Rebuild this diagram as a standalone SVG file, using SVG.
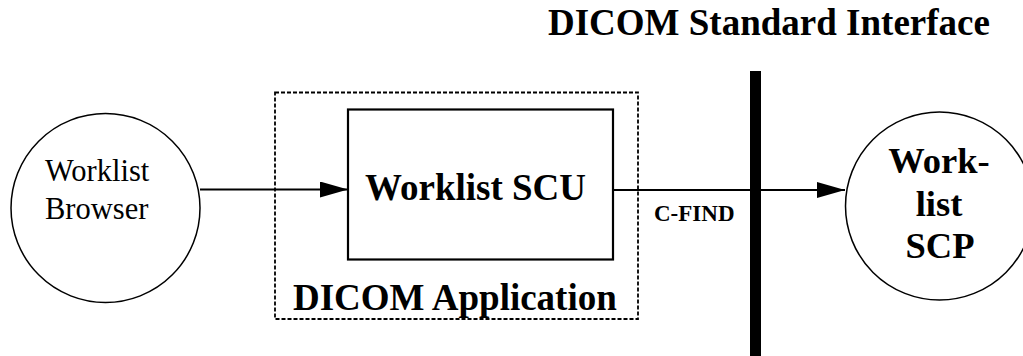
<svg xmlns="http://www.w3.org/2000/svg" width="1023" height="356" viewBox="0 0 1023 356">
<style>
.bg{fill:#fff}
.node{fill:#fff;stroke:#000}
.circ{stroke-width:1.5}
.box{stroke-width:2.2}
.dash{fill:none;stroke:#000;stroke-width:1.8;stroke-dasharray:4 2}
.conn{stroke:#000;stroke-width:2;fill:none}
.serif{font-family:"Liberation Serif","Times New Roman",serif;fill:#000}
.bold{font-weight:bold}
</style>
<defs>
<marker id="arrow" markerUnits="userSpaceOnUse" markerWidth="30" markerHeight="18" refX="28" refY="8" orient="auto">
<path d="M0,0 L28,8 L0,16 Z" fill="#000"/>
</marker>
</defs>
<rect class="bg" x="0" y="0" width="1023" height="356"/>
<g id="title">
<text class="serif bold" x="548" y="35" font-size="37">DICOM Standard Interface</text>
</g>
<g id="interface-bar">
<rect x="750" y="71" width="11" height="285" fill="#000"/>
</g>
<g id="dicom-application">
<rect class="dash" x="275" y="92.5" width="363" height="226.5"/>
<text class="serif bold" x="293" y="310" font-size="37">DICOM Application</text>
</g>
<g id="worklist-browser">
<circle class="node circ" cx="105.5" cy="208" r="94.5"/>
<text class="serif" x="45" y="181" font-size="30.5">Worklist</text>
<text class="serif" x="45" y="219" font-size="30.5">Browser</text>
</g>
<g id="worklist-scu">
<rect class="node box" x="348" y="109.5" width="265" height="150"/>
<text class="serif bold" x="365" y="200" font-size="37">Worklist SCU</text>
</g>
<g id="worklist-scp">
<circle class="node circ" cx="939.5" cy="206" r="94"/>
<text class="serif bold" x="939" y="173" font-size="36.5" text-anchor="middle">Work-</text>
<text class="serif bold" x="939" y="216" font-size="36.5" text-anchor="middle">list</text>
<text class="serif bold" x="940" y="258" font-size="36.5" text-anchor="middle">SCP</text>
</g>
<g id="connectors">
<line class="conn" x1="200" y1="189.5" x2="348" y2="189.5" marker-end="url(#arrow)"/>
<line class="conn" x1="613" y1="190" x2="845" y2="190" marker-end="url(#arrow)"/>
<text class="serif bold" x="654" y="221" font-size="23">C-FIND</text>
</g>
</svg>
